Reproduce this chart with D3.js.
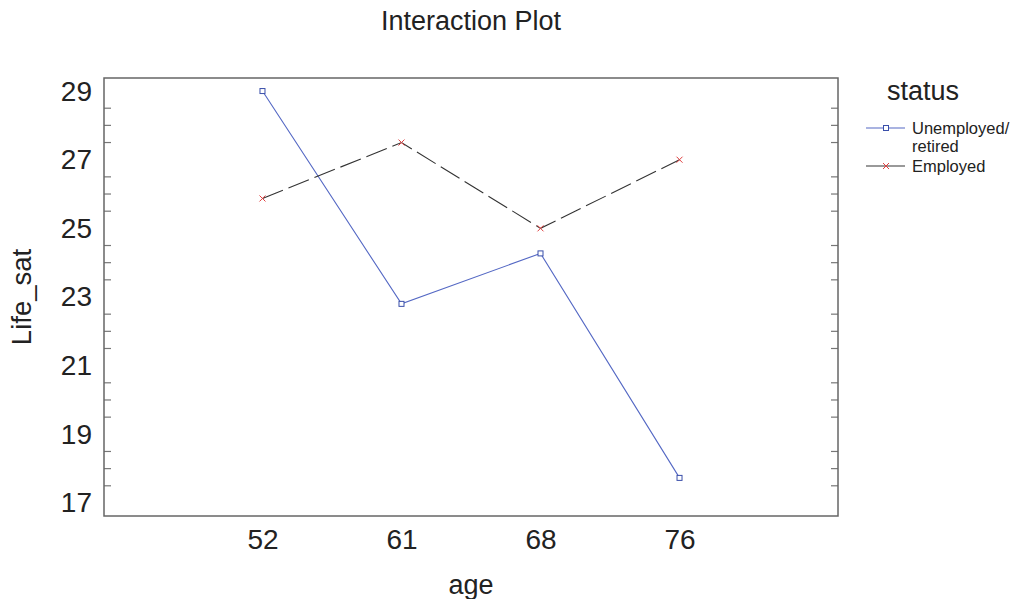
<!DOCTYPE html>
<html><head><meta charset="utf-8">
<script src="https://d3js.org/d3.v7.min.js"></script>
<style>body{margin:0;background:#fff;} svg{display:block;font-family:"Liberation Sans",Arial,sans-serif;}</style>
</head><body>
<script>
const ages = ["52","61","68","76"];
const unemployed = [29.0, 22.8, 24.27, 17.73];
const employed = [25.87, 27.5, 25.0, 27.0];
const yTicks = [17,19,21,23,25,27,29];
const seriesNames = ["Unemployed/\nretired","Employed"];

const W=1021,H=599;
const L=104,R=838,T=78,B=516;
const FF="Liberation Sans, Arial, sans-serif";
const svg=d3.select("body").append("svg").attr("width",W).attr("height",H);

const x=d3.scalePoint().domain(ages).range([L,R]).padding(1.14);
const y=d3.scaleLinear().domain([16.62,29.38]).range([B,T]);

// minor ticks
const minor=d3.range(17,29.01,0.5).filter(v=>v%2!==1);
const gL=svg.append("g");
minor.forEach(v=>{
  const major = yTicks.includes(v);
  const len = major?14:7;
  gL.append("line").attr("x1",L).attr("x2",L+len).attr("y1",y(v)).attr("y2",y(v)).attr("stroke",major?"#333":"#777").attr("stroke-width",1.2);
  gL.append("line").attr("x1",R).attr("x2",R-len).attr("y1",y(v)).attr("y2",y(v)).attr("stroke",major?"#333":"#777").attr("stroke-width",1.2);
});
// y tick labels via axis
const ya=svg.append("g").attr("transform",`translate(${L},0)`).call(d3.axisLeft(y).tickValues(yTicks).tickSize(0).tickPadding(12).tickFormat(d3.format("d")));
ya.select(".domain").remove();
ya.selectAll("text").attr("font-size",28).attr("fill","#222").attr("font-family",FF);

const xa=svg.append("g").attr("transform",`translate(0,${B})`).call(d3.axisBottom(x).tickSize(0).tickPadding(13));
xa.select(".domain").remove();
xa.selectAll("text").attr("font-size",28).attr("fill","#222").attr("font-family",FF);

// frame
svg.append("rect").attr("x",L).attr("y",T).attr("width",R-L).attr("height",B-T).attr("fill","none").attr("stroke","#666").attr("stroke-width",1.5);

const line=d3.line().x((d,i)=>x(ages[i])).y(d=>y(d));
svg.append("path").datum(unemployed).attr("d",line).attr("fill","none").attr("stroke","#5468c4").attr("stroke-width",1.1);
svg.append("path").datum(employed).attr("d",line).attr("fill","none").attr("stroke","#333").attr("stroke-width",1.1).attr("stroke-dasharray","22,6");

unemployed.forEach((v,i)=>{
  svg.append("rect").attr("x",x(ages[i])-2.5).attr("y",y(v)-2.5).attr("width",5).attr("height",5).attr("fill","#fff").attr("stroke","#3a4faa").attr("stroke-width",1);
});
employed.forEach((v,i)=>{
  const cx=x(ages[i]),cy=y(v);
  svg.append("path").attr("d",`M${cx-3},${cy-3}L${cx+3},${cy+3}M${cx-3},${cy+3}L${cx+3},${cy-3}`).attr("stroke","#e04040").attr("stroke-width",1);
});

// title and labels
svg.append("text").attr("x",(L+R)/2).attr("y",30).attr("text-anchor","middle").attr("font-size",27).attr("fill","#222").text("Interaction Plot");
svg.append("text").attr("x",(L+R)/2).attr("y",594).attr("text-anchor","middle").attr("font-size",27).attr("fill","#222").text("age");
svg.append("text").attr("transform",`translate(31,${(T+B)/2}) rotate(-90)`).attr("text-anchor","middle").attr("font-size",27.5).attr("fill","#222").text("Life_sat");

// legend
svg.append("text").attr("x",887).attr("y",100).attr("font-size",27).attr("fill","#222").text("status");
const lg=svg.append("g");
lg.append("line").attr("x1",866).attr("x2",905).attr("y1",128).attr("y2",128).attr("stroke","#5468c4").attr("stroke-width",1.1);
lg.append("rect").attr("x",883.5).attr("y",125.5).attr("width",5).attr("height",5).attr("fill","#fff").attr("stroke","#3a4faa");
const t1=lg.append("text").attr("x",912).attr("y",134).attr("font-size",16.5).attr("fill","#222");
const parts=seriesNames[0].split("\n");
t1.append("tspan").attr("x",912).attr("dy",0).text(parts[0]);
t1.append("tspan").attr("x",912).attr("dy",18).text(parts[1]);
lg.append("line").attr("x1",866).attr("x2",905).attr("y1",166).attr("y2",166).attr("stroke","#777").attr("stroke-width",1.3);
lg.append("path").attr("d",`M883,163L889,169M883,169L889,163`).attr("stroke","#e04040").attr("stroke-width",1);
lg.append("text").attr("x",912).attr("y",172).attr("font-size",16.5).attr("fill","#222").text(seriesNames[1]);
</script>
</body></html>
